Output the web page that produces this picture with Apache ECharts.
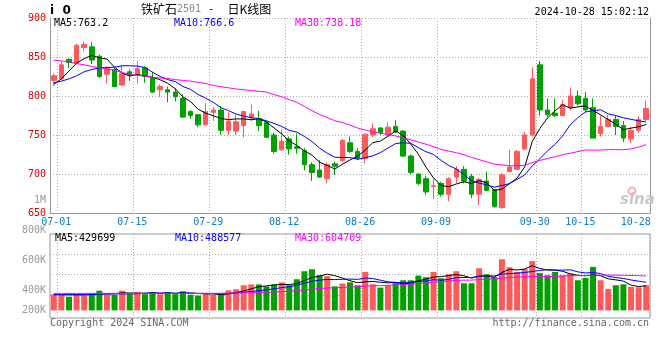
<!DOCTYPE html>
<html><head><meta charset="utf-8">
<script src="https://cdn.jsdelivr.net/npm/echarts@6/dist/echarts.min.js"></script>
<style>html,body{margin:0;padding:0;background:#fff}#c{width:660px;height:360px}</style>
</head><body><div id="c"></div>
<script>
// ---------------- data ----------------
const dates = ['07-01','07-02','07-03','07-04','07-05','07-08','07-09','07-10','07-11','07-12','07-15','07-16','07-17','07-18','07-19','07-22','07-23','07-24','07-25','07-26','07-29','07-30','07-31','08-01','08-02','08-05','08-06','08-07','08-08','08-09','08-12','08-13','08-14','08-15','08-16','08-19','08-20','08-21','08-22','08-23','08-26','08-27','08-28','08-29','08-30','09-02','09-03','09-04','09-05','09-06','09-09','09-10','09-11','09-12','09-13','09-18','09-19','09-20','09-23','09-24','09-25','09-26','09-27','09-30','10-08','10-09','10-10','10-11','10-14','10-15','10-16','10-17','10-18','10-21','10-22','10-23','10-24','10-25','10-28'];
const tickDates = ['07-01','07-15','07-29','08-12','08-26','09-09','09-30','10-15','10-28'];

const opens  = [820,822,847,842,862,863,851,828,834,814,831,827,836,823,808,808,805,797,780,776,763,779,782,756,755,762,772,771,766,750,731,745,735,730,712,705,694,713,717,740,729,720,750,759,750,761,755,723,700,694,684,688,674,696,706,697,674,691,680,657,703,706,732,750,840,782,778,775,785,800,797,785,752,761,770,762,745,756,770];
const closes = [826,840,843,865,866,846,825,835,812,829,827,835,825,805,812,805,799,773,775,763,780,782,756,768,767,780,777,762,747,729,742,732,733,712,702,696,712,710,743,729,720,751,758,753,760,754,723,702,688,677,685,674,694,706,691,674,693,679,658,699,709,729,750,822,782,776,775,789,800,790,782,746,761,770,761,746,756,770,784];
const lows   = [813,820,836,841,857,841,823,816,811,813,819,816,817,804,799,792,793,772,771,760,762,768,750,750,750,747,768,755,746,726,730,725,726,705,691,695,688,699,716,727,718,713,747,750,748,752,722,700,686,673,668,671,665,688,688,669,660,678,657,655,703,705,731,748,775,773,773,774,782,788,780,746,748,760,750,741,740,753,768];
const highs  = [829,844,848,867,870,869,853,838,836,840,834,845,838,831,815,812,810,802,782,777,791,786,787,779,776,781,789,781,768,753,757,748,752,733,715,718,715,716,745,748,733,752,765,760,766,769,756,725,701,698,694,690,696,710,710,700,695,703,681,701,731,731,754,837,845,797,797,795,811,807,805,797,775,776,775,768,760,774,794];

const volumes = [280000,280000,240000,290000,265000,300000,345000,280000,270000,345000,285000,320000,285000,320000,285000,320000,285000,335000,275000,260000,300000,270000,270000,350000,370000,440000,455000,455000,420000,455000,490000,440000,545000,685000,720000,615000,600000,422000,470000,492000,440000,673000,457000,399000,440000,492000,527000,527000,609000,580000,673000,562000,632000,685000,475000,475000,737000,632000,580000,895000,755000,673000,725000,863000,653000,615000,673000,615000,644000,527000,568000,761000,527000,376000,440000,457000,411000,405000,440000];

// moving-average values at the start of the window (earlier data not shown)
const ma5Head  = [815,822,832,842];
const ma10Head = [817,819,822,826,831,834,836,836.5,837];
const ma30Head = [846,845,843.5,841.5,840,838,836,834.5,833,830,828,826.5,825.5,824,823,822.5,821,820,819,817.5,816,813.5,812,810.5,809,808,807,806,805];
const volMa5Head  = [275000,275000,273000,272000];
const volMa10Head = [275000,275000,276000,277000,278000,280000,283000,285000,287000];
const volMa30Head = [298000,298000,298000,298000,298000,298000,298000,298000,298000,298000,298000,298000,298000,298000,298000,298000,298000,298000,298000,298000,298000,299000,300000,302000,305000,308000,311000,314000,318000];

const priceMin = 650, priceMax = 900, priceStep = 50;
const volTickLabels = ['800K','600K','400K','200K'];
const volMaxLabel = '1M';
const titleMain = '铁矿石', titleCode = '2501', titleDash = ' -  ', titleTail = '日K线图';
const symbolText = 'i  0';
const timeText = '2024-10-28 15:02:12';
const priceMaTexts = ['MA5:763.2','MA10:766.6','MA30:738.18'];
const volMaTexts = ['MA5:429699','MA10:488577','MA30:604709'];
const copyText = 'Copyright 2024 SINA.COM';
const urlText = 'http://finance.sina.com.cn';

// ---------------- helpers ----------------
function movingAvg(vals, n, head) {
  return vals.map((v, i) => {
    if (i < head.length) return head[i];
    let s = 0; for (let k = i - n + 1; k <= i; k++) s += vals[k];
    return +(s / n).toFixed(2);
  });
}
const UP = '#ff5a5a', DOWN = '#00a000';
const MA_COLORS = ['#000000', '#0000ff', '#ff00ff'];
const FONT = '"DejaVu Sans Mono", monospace';
const GRID_LINE = { color: '#aaaaaa', type: [1, 2], width: 1 };
const AXIS_GRAY = '#999999';

const kData = opens.map((o, i) => [o, closes[i], lows[i], highs[i]]);
const pMA = [movingAvg(closes, 5, ma5Head), movingAvg(closes, 10, ma10Head), movingAvg(closes, 30, ma30Head)];
const vMA = [movingAvg(volumes, 5, volMa5Head), movingAvg(volumes, 10, volMa10Head), movingAvg(volumes, 30, volMa30Head)];
const volData = volumes.map((v, i) => ({ value: v, itemStyle: { color: closes[i] >= opens[i] ? UP : DOWN } }));

const labelIdx = tickDates.map(d => dates.indexOf(d));
const lineIdx = labelIdx.map(i => i + 1);
const lastIdx = dates.length - 1;

// layout
const L = 50, R = 10;
const pTop = 18, pH = 195;
const vTop = 234, vH = 84;
const vZeroY = 310.4, vPerPx = 17501;
const volMin = -Math.round((vTop + vH - vZeroY) * vPerPx);
const volMax = Math.round((vZeroY - vTop) * vPerPx);

const graphics = [];
function txt(text, x, y, fill, font, align) {
  graphics.push({ type: 'text', silent: true, z: 100,
    style: { text: text, x: x, y: y, fill: fill, font: font, align: align || 'left', verticalAlign: 'middle' } });
}
txt(symbolText, 50, 11, '#000', 'bold 12px "DejaVu Sans", sans-serif');
graphics.push({ type: 'text', silent: true, z: 100, style: {
  text: '{a|' + titleMain + '}{g|' + titleCode + '}{m|' + titleDash + '}{a|' + titleTail + '}', x: 141, y: 9.5, verticalAlign: 'middle',
  rich: { a: { font: '12px "Noto Sans CJK SC", sans-serif', fill: '#000' },
          g: { font: '10px ' + FONT, fill: '#888' },
          m: { font: '11px ' + FONT, fill: '#000' } } } });
txt(timeText, 649, 12.5, '#000', '10px ' + FONT, 'right');
[54, 174, 295].forEach((x, k) => txt(priceMaTexts[k], x, 23.5, MA_COLORS[k], '10px ' + FONT));
[55, 175, 295].forEach((x, k) => txt(volMaTexts[k], x, 238, MA_COLORS[k], '10px ' + FONT));
txt(copyText, 50, 323.5, '#666', '10px ' + FONT);
txt(urlText, 649, 323.5, '#666', '10px ' + FONT, 'right');
txt(volMaxLabel, 46, 200.5, '#999', '10px ' + FONT, 'right');
const volLabelY = [230.5, 260.5, 290.5, 310.5];
volTickLabels.forEach((t, k) => txt(t, 46, volLabelY[k], '#999', '10px ' + FONT, 'right'));
// sina watermark
graphics.push({ type: 'circle', silent: true, z: 1, shape: { cx: 632, cy: 191, r: 3.5 }, style: { fill: 'none', stroke: '#f3b0b0', lineWidth: 2 } });
graphics.push({ type: 'text', silent: true, z: 1, style: { text: 'sina', x: 620, y: 200, verticalAlign: 'middle', fill: '#c8c8c8', font: 'italic bold 15px "DejaVu Sans", sans-serif' } });

const chart = echarts.init(document.getElementById('c'), null, { renderer: 'canvas' });
chart.setOption({
  animation: false,
  backgroundColor: '#ffffff',
  grid: [
    { left: L, right: R, top: pTop, height: pH, containLabel: false, outerBoundsMode: 'none', show: false },
    { left: L, right: R, top: vTop, height: vH, containLabel: false, outerBoundsMode: 'none', show: true, borderColor: AXIS_GRAY, borderWidth: 1 },
    { left: L, right: R, top: vTop, height: 61, containLabel: false, outerBoundsMode: 'none', show: false }
  ],
  xAxis: [
    { gridIndex: 0, type: 'category', data: dates, boundaryGap: true,
      axisLine: { show: true, lineStyle: { color: AXIS_GRAY, width: 1 } }, axisTick: { show: false },
      axisLabel: { interval: (i) => labelIdx.includes(i), color: '#0a80d0', fontFamily: FONT, fontSize: 10, margin: 4,
        padding: [0, 0, 0, 5],
        formatter: (v) => (dates.indexOf(v) === lastIdx ? '{r|' + v + '}' : v),
        rich: { r: { padding: [0, 26, 0, 0], color: '#0a80d0', fontFamily: FONT, fontSize: 10 } } },
      splitLine: { show: true, interval: (i) => lineIdx.includes(i), lineStyle: GRID_LINE } },
    { gridIndex: 1, type: 'category', data: dates, boundaryGap: true,
      axisLine: { show: false }, axisTick: { show: false }, axisLabel: { show: false },
      splitLine: { show: true, interval: (i) => lineIdx.includes(i), lineStyle: GRID_LINE } },
    { gridIndex: 2, type: 'value', min: 0, max: 1, show: false }
  ],
  yAxis: [
    { gridIndex: 0, type: 'value', min: priceMin, max: priceMax, interval: priceStep,
      axisLine: { show: true, lineStyle: { color: AXIS_GRAY, width: 1 } }, axisTick: { show: false },
      axisLabel: { color: '#e00000', fontFamily: FONT, fontSize: 10, margin: 4 },
      splitLine: { show: true, lineStyle: GRID_LINE } },
    { gridIndex: 0, type: 'value', position: 'right', min: priceMin, max: priceMax, interval: priceStep,
      axisLine: { show: true, lineStyle: { color: AXIS_GRAY, width: 1 } }, axisTick: { show: false },
      axisLabel: { show: false }, splitLine: { show: false } },
    { gridIndex: 1, type: 'value', min: volMin, max: volMax,
      axisLine: { show: false }, axisTick: { show: false }, axisLabel: { show: false }, splitLine: { show: false } },
    { gridIndex: 2, type: 'value', min: 0, max: 3, interval: 1,
      axisLine: { show: false }, axisTick: { show: false }, axisLabel: { show: false },
      splitLine: { show: true, showMaxLine: false, lineStyle: GRID_LINE } }
  ],
  series: [
    { type: 'candlestick', xAxisIndex: 0, yAxisIndex: 0, data: kData, barWidth: 5, silent: true,
      itemStyle: { color: UP, color0: DOWN, borderColor: UP, borderColor0: DOWN, borderWidth: 1 } },
    ...pMA.map((d, k) => ({ type: 'line', xAxisIndex: 0, yAxisIndex: 0, data: d, symbol: 'none', silent: true,
      lineStyle: { color: MA_COLORS[k], width: 1 }, itemStyle: { color: MA_COLORS[k] } })),
    { type: 'bar', xAxisIndex: 1, yAxisIndex: 2, data: volData, barWidth: 6, silent: true },
    ...vMA.map((d, k) => ({ type: 'line', xAxisIndex: 1, yAxisIndex: 2, data: d, symbol: 'none', silent: true,
      lineStyle: { color: MA_COLORS[k], width: 1 }, itemStyle: { color: MA_COLORS[k] } }))
  ],
  graphic: graphics
});
</script>
</body></html>
